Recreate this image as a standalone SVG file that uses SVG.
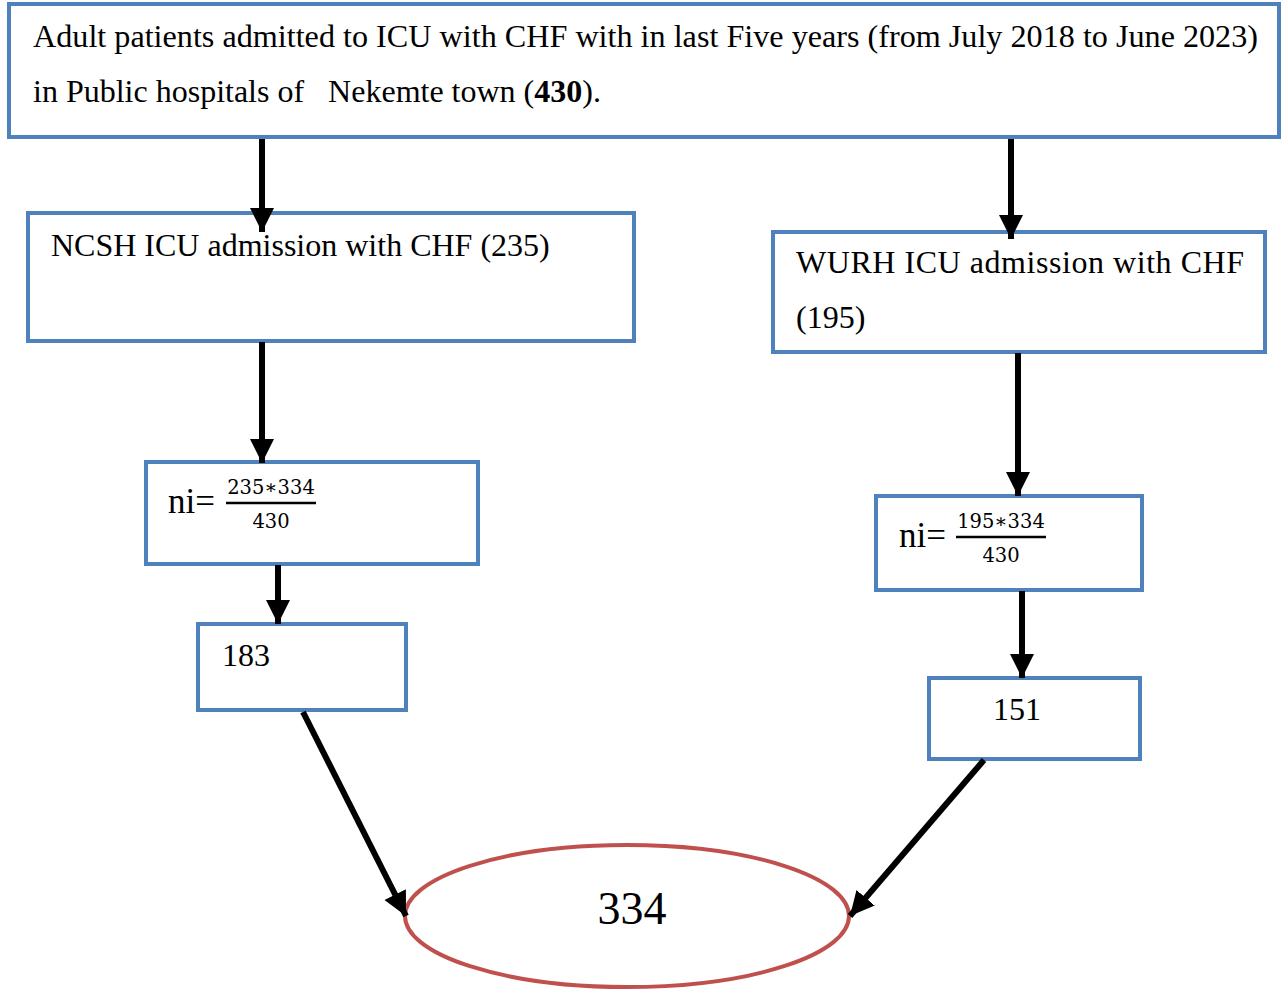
<svg xmlns="http://www.w3.org/2000/svg" width="1281" height="989" viewBox="0 0 1281 989">
<style>
.box{fill:#fff;stroke:#4f81bd;stroke-width:4}
.t{font-family:"Liberation Serif","Times New Roman",serif;font-size:32px;fill:#000;white-space:pre}
.m{font-family:"DejaVu Serif","Liberation Serif",serif;font-size:19.5px;fill:#000}
.c line{stroke:#000;stroke-width:6}
</style>
<defs>
<marker id="ah" markerUnits="userSpaceOnUse" markerWidth="26" markerHeight="26" viewBox="0 0 26 26" refX="24" refY="13" orient="auto">
<path d="M0,1 L24,13 L0,25 Z" fill="#000"/>
</marker>
</defs>
<rect x="0" y="0" width="1281" height="989" fill="#fff"/>
<g id="top">
<rect class="box" x="9" y="4" width="1270" height="133"/>
<text class="t" x="33" y="47" textLength="1225" lengthAdjust="spacingAndGlyphs">Adult patients admitted to ICU with CHF with in last Five years (from July 2018 to June 2023)</text>
<text class="t" x="33" y="102" xml:space="preserve">in Public hospitals of   Nekemte town (<tspan font-weight="bold">430</tspan>).</text>
</g>
<g id="ncsh">
<rect class="box" x="28" y="213" width="606" height="128"/>
<text class="t" x="51" y="256">NCSH ICU admission with CHF (235)</text>
</g>
<g id="wurh">
<rect class="box" x="773" y="232" width="492" height="120"/>
<text class="t" x="796" y="273" textLength="448" lengthAdjust="spacing">WURH ICU admission with CHF</text>
<text class="t" x="796" y="328">(195)</text>
</g>
<g id="ni-left">
<rect class="box" x="146" y="462" width="332" height="102"/>
<text class="t" x="168" y="513" style="font-size:35px">ni=</text>
<text class="m" x="271" y="494" text-anchor="middle">235∗334</text>
<line x1="226" y1="503" x2="316" y2="503" stroke="#000" stroke-width="2.5"/>
<text class="m" x="271" y="528" text-anchor="middle">430</text>
</g>
<g id="ni-right">
<rect class="box" x="876" y="496" width="266" height="94"/>
<text class="t" x="899" y="547" style="font-size:35px">ni=</text>
<text class="m" x="1001" y="528" text-anchor="middle">195∗334</text>
<line x1="956" y1="537" x2="1046" y2="537" stroke="#000" stroke-width="2.5"/>
<text class="m" x="1001" y="562" text-anchor="middle">430</text>
</g>
<g id="n183">
<rect class="box" x="198" y="624" width="208" height="86"/>
<text class="t" x="222" y="666">183</text>
</g>
<g id="n151">
<rect class="box" x="929" y="678" width="211" height="81"/>
<text class="t" x="993" y="720">151</text>
</g>
<g id="total">
<ellipse cx="627" cy="916" rx="222" ry="71" fill="#fff" stroke="#c0504d" stroke-width="4"/>
<text class="t" x="632" y="924" text-anchor="middle" style="font-size:46px">334</text>
</g>
<g class="c">
<line x1="262" y1="139" x2="262" y2="232" marker-end="url(#ah)"/>
<line x1="1011" y1="139" x2="1011" y2="239" marker-end="url(#ah)"/>
<line x1="262" y1="342" x2="262" y2="463" marker-end="url(#ah)"/>
<line x1="1018" y1="353" x2="1018" y2="496" marker-end="url(#ah)"/>
<line x1="278" y1="565" x2="278" y2="624" marker-end="url(#ah)"/>
<line x1="1022" y1="591" x2="1022" y2="678" marker-end="url(#ah)"/>
<line x1="303" y1="712" x2="406" y2="916" marker-end="url(#ah)"/>
<line x1="984" y1="760" x2="850" y2="916" marker-end="url(#ah)"/>
</g>
</svg>
